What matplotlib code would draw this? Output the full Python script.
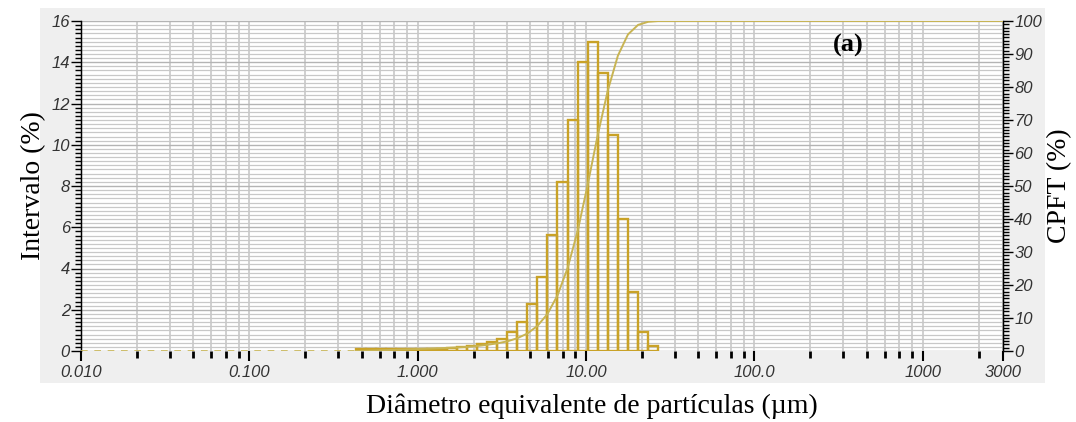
import numpy as np
import matplotlib
matplotlib.use("Agg")
import matplotlib.pyplot as plt
from matplotlib.patches import Rectangle

# bin edges (um) and interval volume (%)
bin_edges = [0.430, 0.494, 0.567, 0.651, 0.747, 0.857, 0.984, 1.129, 1.296, 1.487,
             1.707, 1.959, 2.248, 2.580, 2.961, 3.399, 3.901, 4.477, 5.138, 5.897,
             6.768, 7.768, 8.915, 10.23, 11.74, 13.48, 15.47, 17.75, 20.38, 23.39, 26.84]
interval = [0.08, 0.10, 0.10, 0.10, 0.10, 0.10, 0.10, 0.12, 0.12, 0.15,
            0.18, 0.25, 0.35, 0.45, 0.60, 0.94, 1.42, 2.28, 3.60, 5.63,
            8.20, 11.2, 14.0, 15.0, 13.5, 10.46, 6.39, 2.88, 0.94, 0.24]

x_ticks = [0.01, 0.1, 1, 10, 100, 1000, 3000]
x_labels = ["0.010", "0.100", "1.000", "10.00", "100.0", "1000", "3000"]

bar_col = "#c9a227"
line_col = "#c8b453"
grid_col = "#c8c8c8"
tick_font = {"family": "Liberation Sans", "style": "italic", "size": 12, "color": "#333333"}

fig = plt.figure(figsize=(10.76, 4.22), dpi=100)
fig.patch.set_facecolor("white")
fig.add_artist(Rectangle((40 / 1076, 39 / 422), 1005 / 1076, 375 / 422,
                         transform=fig.transFigure, facecolor="#efefef",
                         edgecolor="none", zorder=-10))

ax = fig.add_axes([81 / 1076, 71 / 422, 922 / 1076, 330 / 422])
ax.set_facecolor("white")
ax.set_xscale("log")
ax.set_xlim(0.01, 3000)
ax.set_ylim(0, 16)

# minor ticks as drawn by the instrument software
minor = []
for d in range(-2, 4):
    for n in range(2, 8):
        v = 10 ** (d + np.log10(n) / np.log10(8))
        if v < 3000:
            minor.append(v)
ax.set_xticks(x_ticks)
ax.set_xticklabels(x_labels, fontdict=tick_font)
ax.set_xticks(minor, minor=True)
ax.set_xticklabels([], minor=True)

ax.set_yticks(np.arange(0, 17, 2))
ax.set_yticklabels([str(v) for v in range(0, 17, 2)], fontdict=tick_font)
ax.set_yticks(np.arange(0, 16.01, 0.2), minor=True)

ax.grid(True, which="both", axis="x", color=grid_col, lw=1.2, zorder=0)
ax.grid(True, which="minor", axis="y", color=grid_col, lw=0.9, zorder=0)
ax.grid(True, which="major", axis="y", color="#b4b4b4", lw=1.0, zorder=0)
ax.set_axisbelow(True)

ax.tick_params(axis="x", which="major", direction="out", length=7, width=1.5, pad=3)
ax.tick_params(axis="x", which="minor", direction="out", length=5, width=2)
ax.tick_params(axis="y", which="major", direction="out", length=7, width=1.0, pad=1)
ax.tick_params(axis="y", which="minor", direction="out", length=4, width=1.0)

for s in ["top", "bottom"]:
    ax.spines[s].set_visible(False)
ax.spines["left"].set_linewidth(1.0)
ax.spines["right"].set_linewidth(1.0)

edges = np.array(bin_edges)
ax.bar(edges[:-1], interval, width=np.diff(edges), align="edge", fill=False,
       edgecolor=bar_col, linewidth=1.7, zorder=3)

ax.set_ylabel("Intervalo (%)", family="Liberation Serif", size=20, labelpad=4)
ax.set_xlabel("Diâmetro equivalente de partículas (µm)", family="Liberation Serif",
              size=20, labelpad=10)
ax.xaxis.set_label_coords(0.554, -0.13)

# cumulative curve on the right axis
ax2 = ax.twinx()
ax2.set_ylim(0, 100)
cum = np.concatenate([[0], np.cumsum(interval)])
cum = cum / cum[-1] * 100
ax2.plot(np.append(edges, 3000), np.append(cum, 100), color=line_col, lw=1.4, zorder=4)
ax2.plot([0.01, edges[0]], [0, 0], color=line_col, lw=1.2, ls=(0, (4, 4)), zorder=4)

ax2.set_yticks(np.arange(0, 101, 10))
ax2.set_yticklabels([str(v) for v in range(0, 101, 10)], fontdict=tick_font)
ax2.set_yticks(np.arange(0, 101, 1), minor=True)
ax2.tick_params(axis="y", which="major", direction="out", length=7, width=1.0, pad=1)
ax2.tick_params(axis="y", which="minor", direction="out", length=4, width=1.0)
for s in ["top", "bottom"]:
    ax2.spines[s].set_visible(False)
ax2.set_ylabel("CPFT (%)", family="Liberation Serif", size=20, labelpad=4)

ax.text(0.832, 0.925, "(a)", transform=ax.transAxes, family="Liberation Serif",
        weight="bold", size=19, ha="center", va="center")

fig.savefig("out.png", dpi=100)
